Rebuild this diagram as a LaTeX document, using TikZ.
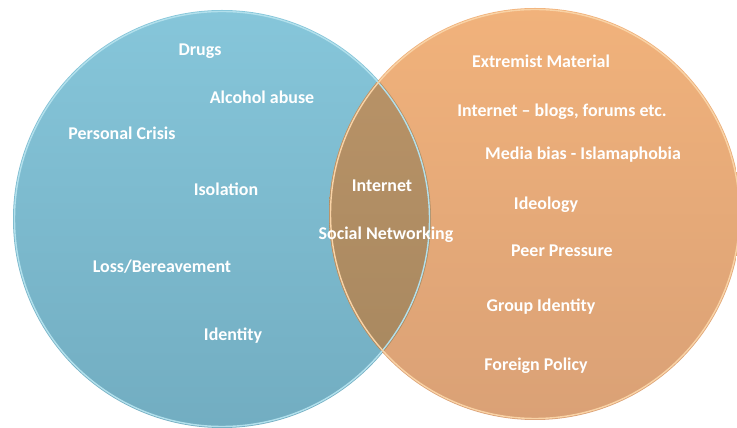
\documentclass[tikz,border=0pt]{standalone}
\usepackage{fontspec}
\setmainfont{Carlito}
\definecolor{bluetop}{HTML}{86C6DA}
\definecolor{bluebot}{HTML}{72ADC1}
\definecolor{bluerim}{HTML}{B2E0EC}
\definecolor{orangetop}{HTML}{F1B27B}
\definecolor{orangebot}{HTML}{DAA176}
\definecolor{orangerim}{HTML}{F9D3A6}
\definecolor{lenstop}{HTML}{BB9468}
\definecolor{lensbot}{HTML}{A6875F}

\begin{document}
\begin{tikzpicture}[x=0.02cm,y=-0.02cm,
   lbl/.style={text=white,inner sep=0pt,font=\fontsize{10.2}{12}\selectfont\bfseries}]
   \useasboundingbox (0,0) rectangle (737,428);
   % the two sets
   \shade[top color=bluetop,bottom color=bluebot] (222,219) circle(209);
   \shade[top color=orangetop,bottom color=orangebot] (535,214) circle(206);
   \begin{scope}
    \clip (222,219) circle(209);
    \shade[top color=lenstop,bottom color=lensbot] (535,214) circle(206);
   \end{scope}
   \draw[bluerim,line width=0.8pt] (222,219) circle(207.5);
   \draw[orangerim,line width=0.8pt] (535,214) circle(204.5);
   % left set
   \node[lbl] (drugs)    at (200,51)  {Drugs};
   \node[lbl] (alcohol)  at (262,97)  {Alcohol abuse};
   \node[lbl] (crisis)   at (122,133) {Personal Crisis};
   \node[lbl] (isol)     at (226,189) {Isolation};
   \node[lbl] (loss)     at (162,267) {Loss/Bereavement};
   \node[lbl] (ident)    at (233,336) {Identity};
   % both sets
   \node[lbl] (net)      at (382,186) {Internet};
   \node[lbl] (social)   at (386,235) {Social Networking};
   % right set
   \node[lbl] (extreme)  at (541,61)  {Extremist Material};
   \node[lbl] (blogs)    at (562,112) {Internet -- blogs, forums etc.};
   \node[lbl] (media)    at (583,155) {Media bias - Islamaphobia};
   \node[lbl] (ideo)     at (546,205) {Ideology};
   \node[lbl] (peer)     at (562,251) {Peer Pressure};
   \node[lbl] (group)    at (541,307) {Group Identity};
   \node[lbl] (foreign)  at (536,366) {Foreign Policy};
  \end{tikzpicture}
\end{document}
